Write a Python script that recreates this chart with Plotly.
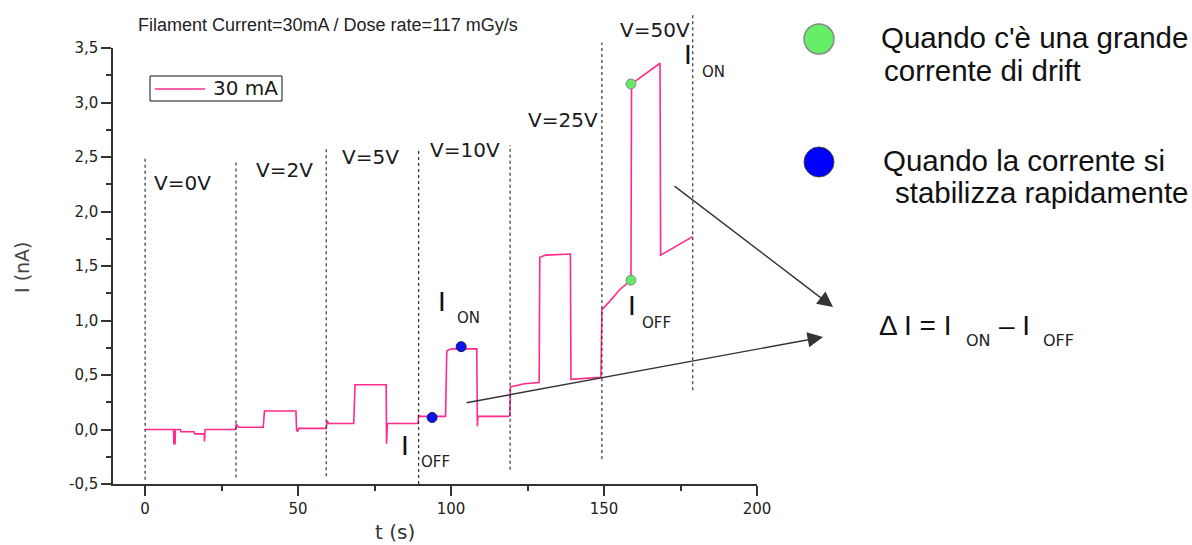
import plotly.graph_objects as go

# Ionisation current at 30 mA filament current, bias stepped every 30 s
t_s = [0, 9.3, 9.4, 9.8, 9.9, 11.5, 11.7, 16.0, 16.2, 19.3, 19.4, 19.6, 29.5, 29.8, 30.5,
       38.6, 39.0, 49.3, 49.5, 49.8, 50.2, 59.2, 59.5, 60.0, 68.2, 68.6, 78.8, 78.9, 79.2,
       89.2, 89.4, 90.0, 98.2, 98.6, 100.0, 108.4, 108.6, 108.8, 118.8, 119.2, 119.4, 124.0,
       128.8, 129.0, 131.0, 139.0, 139.2, 149.0, 149.3, 152.0, 155.0, 158.8, 159.0, 163.0,
       168.3, 168.5, 179.0]
current_nA = [0.0, 0.0, -0.13, -0.13, 0.0, 0.0, -0.02, -0.02, -0.04, -0.04, -0.11, 0.0, 0.0, 0.05, 0.02,
              0.02, 0.17, 0.17, 0.0, -0.02, 0.01, 0.01, 0.08, 0.055, 0.055, 0.41, 0.41, -0.13, 0.055,
              0.055, 0.13, 0.12, 0.12, 0.72, 0.74, 0.74, 0.03, 0.12, 0.12, 0.13, 0.39, 0.42,
              0.43, 1.58, 1.60, 1.61, 0.46, 0.48, 1.10, 1.18, 1.28, 1.37, 3.17, 3.25,
              3.36, 1.60, 1.77]

# Reading points: large drift (green) and fast stabilisation (blue)
drift_t = [158.8, 158.8]
drift_i = [1.37, 3.17]
stable_t = [93.8, 103.3]
stable_i = [0.11, 0.76]

# Bias voltage steps: switch times, labels and dotted marker extents (nA)
step_t = [0, 29.7, 59.2, 89.4, 119.3, 149.3, 179.0]
step_top = [2.49, 2.47, 2.58, 2.58, 2.61, 3.55, 3.80]
step_bottom = [-0.46, -0.44, -0.43, -0.50, -0.37, -0.27, 0.36]
step_labels = ["V=0V", "V=2V", "V=5V", "V=10V", "V=25V", "V=50V"]

# Axis ticks (comma decimals, plain hyphen minus)
y_tickvals = [-0.5, 0.0, 0.5, 1.0, 1.5, 2.0, 2.5, 3.0, 3.5]
y_ticktext = ["-0,5", "0,0", "0,5", "1,0", "1,5", "2,0", "2,5", "3,0", "3,5"]
x_tickvals = [0, 50, 100, 150, 200]
x_ticktext = ["0", "50", "100", "150", "200"]

x_range = [-10.5, 200]
y_range = [-0.5, 3.5]

W, H = 1192, 545
L, R, T, B = 113, 757, 48, 484
PINK = "#ff2a8c"
INK = "#1a1a1a"


def px(x):
    return (x - L) / (R - L)


def py(y):
    return (B - y) / (B - T)


def yp(v):
    return (v - y_range[0]) / (y_range[1] - y_range[0])


fig = go.Figure()
fig.add_trace(go.Scatter(x=t_s, y=current_nA, mode="lines", name="30 mA",
                         line=dict(color=PINK, width=1.6), showlegend=False))
fig.add_trace(go.Scatter(x=drift_t, y=drift_i, mode="markers", showlegend=False,
                         marker=dict(size=10, color="#66e866", line=dict(color="#8a8a8a", width=1))))
fig.add_trace(go.Scatter(x=stable_t, y=stable_i, mode="markers", showlegend=False,
                         marker=dict(size=10, color="#0a14f0", line=dict(color="#1a1a60", width=1))))

shapes = []
for t0, top, bot in zip(step_t, step_top, step_bottom):
    shapes.append(dict(type="line", xref="x", yref="paper", x0=t0, x1=t0,
                       y0=yp(bot), y1=yp(top), line=dict(color="#333", width=1.2, dash="dot")))

# legend box
shapes.append(dict(type="rect", xref="paper", yref="paper", x0=px(150), x1=px(282),
                   y0=py(101), y1=py(76), line=dict(color="#111", width=1)))
shapes.append(dict(type="line", xref="paper", yref="paper", x0=px(155), x1=px(205),
                   y0=py(89), y1=py(89), line=dict(color=PINK, width=1.6)))

# key circles on the right
shapes.append(dict(type="circle", xref="paper", yref="paper", x0=px(804), x1=px(834),
                   y0=py(54), y1=py(24), fillcolor="#66ee66", line=dict(color="#888", width=1.5)))
shapes.append(dict(type="circle", xref="paper", yref="paper", x0=px(804), x1=px(834),
                   y0=py(177), y1=py(147), fillcolor="#0000ff", line=dict(color="#444", width=1)))

ann = []


def text(s, x, y, size, family="DejaVu Sans", color=INK, xanchor="center", angle=0):
    ann.append(dict(text=s, xref="paper", yref="paper", x=px(x), y=py(y), showarrow=False,
                    xanchor=xanchor, yanchor="middle", textangle=angle,
                    font=dict(family=family, size=size, color=color)))


text("Filament Current=30mA / Dose rate=117 mGy/s", 328, 25, 18, family="Liberation Sans", color="#222")
text("30 mA", 211, 88, 20, xanchor="left")

for lab, (x, y) in zip(step_labels, [(182, 183), (284, 170), (370, 157), (465, 150), (563, 120), (655, 30)]):
    text(lab, x, y, 20)

# I_ON / I_OFF markers on the plot
for (xi, yi), (sub, xs, ys) in [((442, 301), ("ON", 468, 318)), ((405, 445), ("OFF", 435, 462)),
                                ((688, 55), ("ON", 713, 72)), ((632, 305), ("OFF", 656, 323))]:
    text("I", xi, yi, 28, family="Liberation Sans", color="#111")
    text(sub, xs, ys, 15, color="#222")

text("Quando c'è una grande", 879, 37, 29.5, family="Liberation Sans", color="#111", xanchor="left")
text("corrente di drift", 882, 71, 29.5, family="Liberation Sans", color="#111", xanchor="left")
text("Quando la corrente si", 881, 161, 29.5, family="Liberation Sans", color="#111", xanchor="left")
text("stabilizza rapidamente", 893, 193, 29.5, family="Liberation Sans", color="#111", xanchor="left")

text("Δ I = I", 877, 325, 28, family="Liberation Sans", color="#111", xanchor="left")
text("ON", 964, 340, 16, color="#222", xanchor="left")
text("– I", 997, 325, 28, family="Liberation Sans", color="#111", xanchor="left")
text("OFF", 1041, 340, 16, color="#222", xanchor="left")

text("I (nA)", 22, 267, 19, color="#444", angle=-90)
text("t (s)", 395, 532, 20, color="#333")

# arrows pointing to the ΔI definition
for (tip_x, tip_y), (tail_x, tail_y) in [((823, 337), (465, 403)), ((833, 307), (673, 185))]:
    ann.append(dict(text="", xref="paper", yref="paper", x=px(tip_x), y=py(tip_y),
                    ax=tail_x - tip_x, ay=tail_y - tip_y, showarrow=True,
                    arrowhead=2, arrowsize=2.2, arrowwidth=1.4, arrowcolor="#333", standoff=0))

axis_common = dict(showline=True, linecolor="#333", linewidth=1.5, ticks="outside",
                   ticklen=10, tickwidth=1.5, tickcolor="#333", showgrid=False, zeroline=False,
                   tickfont=dict(family="DejaVu Sans", size=15, color="#222"))

fig.update_layout(
    width=W, height=H, autosize=False,
    margin=dict(l=L, r=W - R, t=T, b=H - B, pad=0),
    paper_bgcolor="white", plot_bgcolor="white",
    xaxis=dict(range=x_range, tickmode="array", tickvals=x_tickvals, ticktext=x_ticktext,
               minor=dict(dtick=25, tick0=0, ticks="outside", ticklen=5, tickwidth=1.5, tickcolor="#333"),
               **axis_common),
    yaxis=dict(range=y_range, tickmode="array", tickvals=y_tickvals, ticktext=y_ticktext,
               minor=dict(dtick=0.25, tick0=0, ticks="outside", ticklen=5, tickwidth=1.5, tickcolor="#333"),
               **axis_common),
    shapes=shapes,
    annotations=ann,
    showlegend=False,
)

fig.write_html("out.html")
